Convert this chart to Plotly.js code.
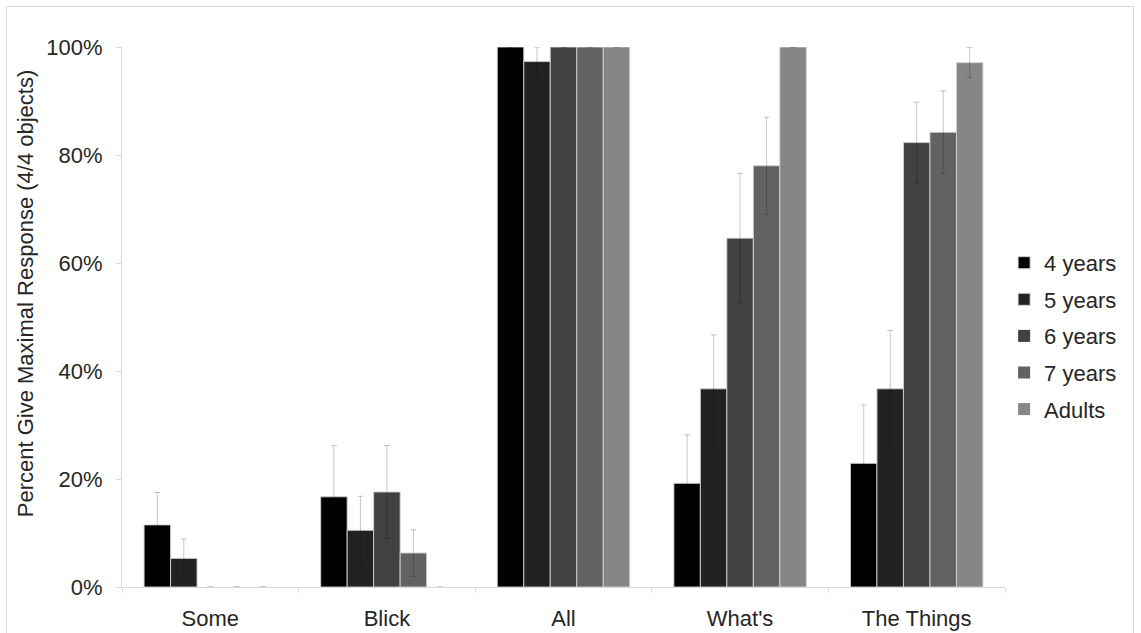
<!DOCTYPE html>
<html>
<head>
<meta charset="utf-8">
<script src="https://cdn.plot.ly/plotly-3.0.1.min.js"></script>
<style>
  html, body { margin: 0; padding: 0; background: #ffffff; }
  #frame { position: absolute; left: 6px; top: 6px; width: 1128px; height: 700px; border: 1px solid #d9d9d9; box-sizing: border-box; }
  #chart { position: absolute; left: 0; top: 0; width: 1141px; height: 633px; }
</style>
</head>
<body>
<div id="frame"></div>
<div id="chart"></div>
<script>
const categories = ["Some", "Blick", "All", "What's", "The Things"];
const seriesNames = ["4 years", "5 years", "6 years", "7 years", "Adults"];
const yTitle = "Percent Give Maximal Response (4/4 objects)";

const values4y = [11.5, 16.7, 100, 19.2, 22.9];
const values5y = [5.3, 10.5, 97.3, 36.7, 36.7];
const values6y = [0, 17.6, 100, 64.6, 82.3];
const values7y = [0, 6.3, 100, 78.0, 84.2];
const valuesAdults = [0, 0, 100, 100, 97.1];

const err4y = [6.0, 9.5, null, 9.0, 10.8];
const err5y = [3.6, 6.3, 2.7, 10.0, 10.8];
const err6y = [null, 8.6, null, 12.0, 7.5];
const err7y = [null, 4.3, null, 9.0, 7.7];
const errAdults = [null, null, null, null, 2.8];

const colors = ["#000000", "#222222", "#414141", "#626262", "#868686"];

const allValues = [values4y, values5y, values6y, values7y, valuesAdults];
const allErrors = [err4y, err5y, err6y, err7y, errAdults];

const traces = seriesNames.map((name, i) => ({
  type: "bar",
  name: name,
  legendgroup: "g" + i,
  x: categories,
  y: allValues[i],
  marker: {
    color: colors[i],
    line: { color: "rgba(210,210,210,0.9)", width: allValues[i].map(v => (v > 0 ? 1 : 0)) }
  },
  error_y: { type: "data", array: allErrors[i], visible: true, color: "rgba(0,0,0,0.22)", thickness: 1, width: 3 },
  hoverinfo: "x+y+name"
}));

const layout = {
  width: 1141,
  height: 633,
  paper_bgcolor: "rgba(0,0,0,0)",
  plot_bgcolor: "rgba(0,0,0,0)",
  margin: { l: 122, r: 136, t: 47, b: 46 },
  barmode: "group",
  bargap: 0.25,
  bargroupgap: 0,
  font: { family: "Liberation Sans, Arial, sans-serif", color: "#262626", size: 22 },
  xaxis: {
    type: "category",
    showline: true,
    linecolor: "#d9d9d9",
    linewidth: 1,
    ticks: "outside",
    tickson: "boundaries",
    ticklen: 5,
    tickcolor: "#d9d9d9",
    showgrid: false,
    zeroline: false,
    ticklabelstandoff: 12,
    tickfont: { size: 22, color: "#262626" }
  },
  yaxis: {
    range: [0, 100],
    dtick: 20,
    ticksuffix: "%",
    showline: true,
    linecolor: "#d9d9d9",
    linewidth: 1,
    ticks: "outside",
    ticklen: 5,
    tickcolor: "#d9d9d9",
    showgrid: false,
    zeroline: false,
    ticklabelstandoff: 9,
    tickfont: { size: 22, color: "#262626" }
  },
  annotations: [{
    text: yTitle,
    xref: "paper",
    yref: "paper",
    x: (25 - 122) / 883,
    y: 0.544,
    xanchor: "center",
    yanchor: "middle",
    textangle: -90,
    showarrow: false,
    font: { size: 22, color: "#262626" }
  }],
  legend: {
    x: 0.999,
    xanchor: "left",
    y: 0.465,
    yanchor: "middle",
    font: { size: 22, color: "#262626" },
    tracegroupgap: 5,
    bgcolor: "rgba(0,0,0,0)"
  },
  showlegend: true
};

Plotly.newPlot("chart", traces, layout, { displayModeBar: false, staticPlot: true });
</script>
</body>
</html>
